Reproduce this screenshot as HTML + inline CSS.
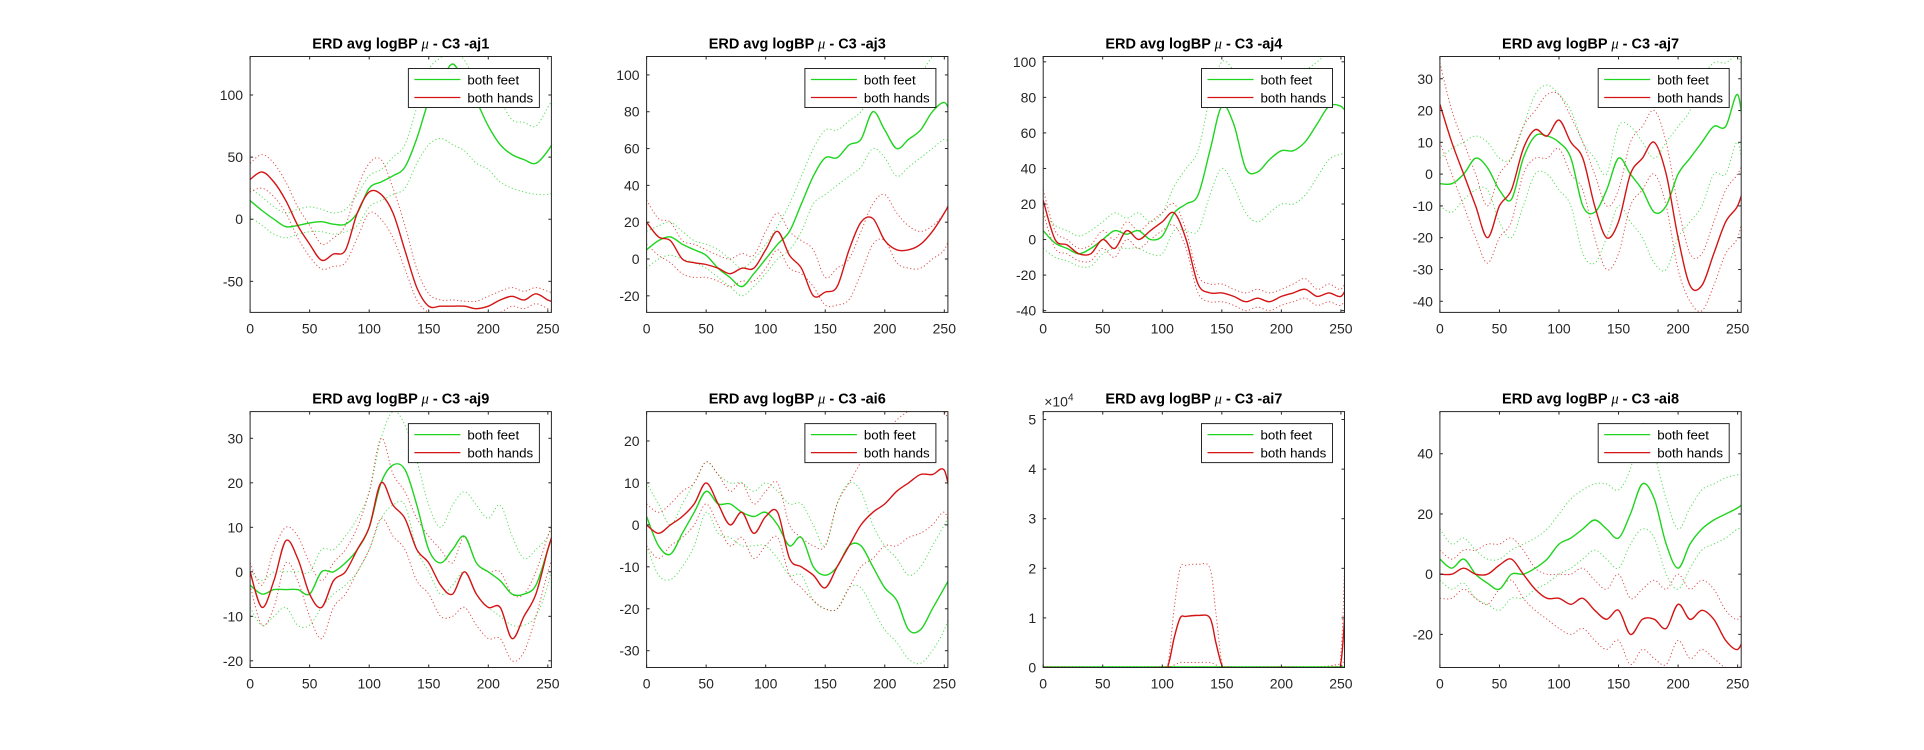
<!DOCTYPE html>
<html><head><meta charset="utf-8"><style>
body{margin:0;background:#fff;}
svg{display:block;font-family:"Liberation Sans",sans-serif;}
</style></head><body>
<svg id="fig" width="1924" height="750" viewBox="0 0 1924 750" xmlns="http://www.w3.org/2000/svg">
<rect width="1924" height="750" fill="#fff"/>
</svg>
<script>
const X = [0,10,20,30,40,50,60,70,80,90,100,110,120,130,140,150,160,170,180,190,200,210,220,230,240,250,256];
const X7 = [0,100,105,110,115,120,130,140,145,150,155,200,245,250,253,256];
const titles = ["aj1","aj3","aj4","aj7","aj9","ai6","ai7","ai8"];
const ylims = [[-75,131],[-29,110],[-41,103],[-43.5,37],[-21.5,36],[-34,27],[0,5.16],[-31,54]];
const yticks = [[-50,0,50,100],[-20,0,20,40,60,80,100],[-40,-20,0,20,40,60,80,100],[-40,-30,-20,-10,0,10,20,30],[-20,-10,0,10,20,30],[-30,-20,-10,0,10,20],[0,1,2,3,4,5],[-20,0,20,40]];
const xticks = [0,50,100,150,200,250];

// feet (green) mean / upper / lower
const gM = [
[15,7,0,-6,-5,-3,-2,-4,-4,5,25,30,35,42,65,95,110,125,110,95,75,60,52,48,45,55,65],
[5,10,12,8,5,2,-5,-10,-15,-8,0,8,15,30,45,55,55,62,65,80,70,60,65,70,80,85,78],
[5,-2,-5,-8,-5,0,5,3,5,0,2,15,20,25,50,75,65,40,38,45,50,50,55,65,75,75,70],
[-3,-3,0,5,2,-5,-8,5,12,12,10,5,-10,-12,-5,5,0,-5,-12,-10,0,5,10,15,15,25,10],
[-3,-5,-4,-4,-4,-5,0,0,2,5,10,20,24,23,15,5,2,5,8,2,0,-2,-5,-5,-3,5,10],
[2,-5,-7,-2,3,8,5,5,3,2,3,0,-5,-3,-10,-12,-10,-5,-5,-10,-15,-18,-25,-25,-20,-15,-12],
[0.01,0.01,0.01,0.01,0.01,0.01,0.01,0.01,0.01,0.01,0.01,0.01,0.01,0.01,0.01,0.02],
[5,2,5,0,-3,-5,0,0,2,5,10,12,15,18,15,12,20,30,25,10,2,10,15,18,20,22,24]];
const gU = [
[25,18,10,5,8,10,8,5,8,20,35,40,50,60,90,120,130,135,128,110,105,95,80,78,75,90,100],
[15,18,20,15,10,8,5,0,-5,0,8,18,30,45,60,70,70,75,80,90,95,85,90,100,110,115,105],
[15,8,5,2,5,10,15,12,15,10,15,30,40,50,80,100,95,85,85,90,90,90,95,100,105,105,100],
[5,8,10,12,10,5,5,15,25,28,25,20,10,5,0,15,15,10,5,10,15,20,30,35,35,37,30],
[0,-2,0,0,0,0,5,5,8,12,18,30,36,33,25,15,10,15,18,15,12,15,8,3,5,8,12],
[10,5,0,5,10,15,12,10,10,8,10,8,5,5,0,-5,5,10,8,0,-5,-8,-12,-10,-5,0,3],
[0.02,0.02,0.02,0.02,0.02,0.02,0.02,0.02,0.02,0.02,0.02,0.02,0.02,0.02,0.02,0.04],
[15,10,12,8,5,5,8,10,12,15,20,25,28,30,30,28,35,50,40,25,15,22,28,30,32,33,33]];
const gL = [
[2,-5,-12,-15,-12,-10,-10,-12,-10,-5,10,15,20,25,45,60,65,60,55,45,40,30,25,22,20,20,22],
[-5,0,2,0,-2,-5,-10,-15,-20,-15,-8,0,5,15,30,35,40,45,50,60,55,45,50,55,60,65,62],
[-5,-10,-12,-15,-15,-8,-5,-5,-5,-8,-8,5,5,5,25,40,30,15,10,15,20,20,25,35,45,48,48],
[-10,-12,-8,-5,-5,-15,-20,-10,0,0,-5,-10,-25,-28,-20,-10,-15,-20,-28,-30,-20,-15,-10,0,0,10,-5],
[-8,-12,-10,-8,-12,-12,-8,-5,-3,0,5,12,15,15,5,0,-5,-3,0,-5,-8,-10,-12,-12,-10,-3,5],
[-5,-12,-13,-10,-5,3,-2,-3,-5,-5,-5,-8,-12,-12,-18,-20,-20,-15,-15,-20,-25,-28,-32,-33,-30,-25,-20],
[0,0,0,0,0,0,0,0,0,0,0,0,0,0,0,0],
[-2,-5,-3,-8,-10,-12,-8,-8,-5,-3,0,2,5,8,5,2,10,15,12,0,-5,2,8,10,12,15,15]];
// hands (red) mean / upper / lower
const rM = [
[32,38,30,15,-5,-20,-33,-28,-25,5,22,20,5,-25,-55,-70,-70,-70,-70,-72,-70,-65,-62,-65,-60,-65,-67],
[20,12,10,0,-2,-3,-5,-8,-5,-5,5,15,2,-5,-20,-18,-15,5,20,22,10,5,5,8,15,25,32],
[22,0,-3,-8,-8,0,-5,5,0,5,10,15,0,-25,-30,-30,-32,-35,-33,-35,-32,-30,-28,-32,-30,-32,-25],
[22,10,0,-10,-20,-10,-5,8,14,12,17,10,5,-10,-20,-15,0,5,10,0,-20,-35,-35,-25,-15,-10,-3],
[0,-8,-2,7,3,-5,-8,-2,0,5,10,20,15,12,5,2,-3,-5,0,-5,-8,-8,-15,-10,-5,5,10],
[0,-2,0,2,5,10,5,0,3,-2,2,3,-8,-10,-12,-15,-10,-5,0,3,5,8,10,12,12,13,5],
[0,0,0.05,0.6,1.0,1.03,1.05,1.0,0.5,0.05,0,0,0,0.1,1.0,2.63],
[0,0,2,0,0,3,5,0,-5,-8,-8,-10,-8,-12,-15,-12,-20,-15,-15,-18,-10,-15,-12,-15,-22,-25,-20]];
const rU = [
[45,52,45,30,10,-5,-20,-15,-5,25,45,48,25,-5,-40,-60,-65,-65,-66,-66,-62,-58,-55,-58,-55,-58,-60],
[32,22,20,10,8,5,2,0,3,2,15,25,15,10,5,-10,-5,0,15,30,35,25,18,15,18,25,35],
[28,5,0,-5,-3,5,0,10,5,10,15,20,5,-20,-25,-25,-28,-30,-28,-30,-28,-25,-22,-28,-25,-28,-20],
[35,20,10,0,-10,0,5,15,20,25,25,18,10,0,-10,-5,10,15,20,10,-10,-25,-25,-15,-5,0,5],
[2,-3,5,10,8,2,-2,2,5,10,18,30,22,18,12,8,5,2,8,2,0,0,-5,-5,0,8,12],
[5,3,5,8,10,15,12,8,10,5,8,10,0,-3,-5,-5,5,10,15,20,22,25,27,27,27,27,22],
[0,0,0.1,1.2,2.0,2.06,2.08,2.0,1.1,0.1,0,0,0.05,0.3,2.0,5.1],
[8,5,8,8,10,10,12,8,2,0,0,0,2,-2,-5,0,-8,-5,-2,-5,0,-5,-2,-5,-12,-15,-10]];
const rL = [
[22,25,18,5,-15,-30,-40,-38,-35,-15,5,0,-15,-40,-65,-75,-75,-75,-75,-75,-75,-75,-70,-72,-68,-72,-74],
[8,2,-2,-8,-10,-10,-12,-15,-12,-12,-5,5,-5,-8,-15,-25,-25,-22,-8,8,10,-2,-5,-5,0,5,15],
[15,-5,-8,-12,-12,-5,-10,0,-5,0,5,8,-5,-30,-35,-35,-37,-40,-38,-40,-37,-35,-33,-37,-35,-37,-30],
[10,0,-10,-20,-28,-20,-15,0,5,5,8,0,-5,-20,-30,-25,-10,-5,0,-10,-30,-40,-43,-35,-25,-20,-10],
[-3,-12,-8,2,-2,-10,-15,-8,-5,0,5,12,8,5,-2,-5,-10,-10,-8,-12,-15,-15,-20,-18,-10,0,5],
[-5,-8,-5,-3,0,5,0,-5,-3,-8,-5,-3,-12,-15,-18,-20,-20,-15,-10,-8,-5,-5,-3,-2,0,3,-2],
[0,0,0,0.05,0.1,0.1,0.1,0.1,0.05,0,0,0,0,0,0.2,0.5],
[-8,-8,-5,-8,-10,-5,-2,-8,-12,-15,-18,-20,-18,-22,-25,-22,-30,-25,-28,-30,-22,-28,-25,-28,-31,-31,-30]];

const NS = "http://www.w3.org/2000/svg";
const fig = document.getElementById('fig');
const colL = [250.1, 646.6, 1043.2, 1439.9];
const rowT = [56.5, 411.6];
const W = 301.3, H = 255.9, XMAX = 253;
const GREEN = '#1ed41e', RED = '#d41414';
function mk(tag, attrs, parent){ const e=document.createElementNS(NS,tag); for(const k in attrs) e.setAttribute(k,attrs[k]); (parent||fig).appendChild(e); return e; }
function pathD(xs, ys, sx, sy){
  const p = xs.map((x,i)=>[sx(x), sy(ys[i])]);
  let d = 'M'+p[0][0].toFixed(1)+','+p[0][1].toFixed(1);
  for(let i=0;i<p.length-1;i++){
    const p0=p[Math.max(0,i-1)], p1=p[i], p2=p[i+1], p3=p[Math.min(p.length-1,i+2)];
    const c1=[p1[0]+(p2[0]-p0[0])/6, p1[1]+(p2[1]-p0[1])/6];
    const c2=[p2[0]-(p3[0]-p1[0])/6, p2[1]-(p3[1]-p1[1])/6];
    d += ' C'+c1[0].toFixed(1)+','+c1[1].toFixed(1)+' '+c2[0].toFixed(1)+','+c2[1].toFixed(1)+' '+p2[0].toFixed(1)+','+p2[1].toFixed(1);
  }
  return d;
}
for(let k=0;k<8;k++){
  const L = colL[k%4], T = rowT[Math.floor(k/4)];
  const [y0,y1] = ylims[k];
  const sx = v => L + v/XMAX*W;
  const sy = v => T + H - (v-y0)/(y1-y0)*H;
  const xs = (k===6) ? X7 : X;
  const g = mk('g',{});
  
  
  const cid='clip'+k;
  const cp = mk('clipPath',{id:cid},g); mk('rect',{x:L,y:T,width:W,height:H},cp);
  const plot = mk('g',{'clip-path':'url(#'+cid+')'},g);
  const series = [[gU[k],GREEN,true,'feet-upper'],[gL[k],GREEN,true,'feet-lower'],[rU[k],RED,true,'hands-upper'],[rL[k],RED,true,'hands-lower'],[gM[k],GREEN,false,'feet-mean'],[rM[k],RED,false,'hands-mean']];
  for(const [ys,col,dot,nm] of series){
    const p = mk('path',{d:pathD(xs,ys,sx,sy),fill:'none',stroke:col,'stroke-width':dot?1:1.4,'stroke-dasharray':dot?'1.2,2.4':'none','stroke-opacity':dot?0.75:1},plot);
    
    
  }
  // axes box
  const box = mk('rect',{x:L,y:T,width:W,height:H,fill:'none',stroke:'#262626','stroke-width':1},g);
  
  
  for(const t of xticks){
    const x = sx(t);
    mk('line',{x1:x,x2:x,y1:T+H,y2:T+H-3,stroke:'#262626'},g);
    mk('line',{x1:x,x2:x,y1:T,y2:T+3,stroke:'#262626'},g);
    const tx = mk('text',{x:x,y:T+H+21,'font-size':14,fill:'#262626','text-anchor':'middle'},g);
    tx.textContent = t;
    
    
  }
  for(const t of yticks[k]){
    const y = sy(t);
    mk('line',{x1:L,x2:L+3,y1:y,y2:y,stroke:'#262626'},g);
    mk('line',{x1:L+W,x2:L+W-3,y1:y,y2:y,stroke:'#262626'},g);
    const ty = mk('text',{x:L-7,y:y+5,'font-size':14,fill:'#262626','text-anchor':'end'},g);
    ty.textContent = t;
    
    
  }
  if(k===6){
    const ex = mk('text',{x:L+1,y:T-5,'font-size':14,fill:'#262626'},g);
    ex.innerHTML = '×10<tspan dy="-6" font-size="10">4</tspan>';
    
    
  }
  const tt = mk('text',{x:L+W/2,y:T-8,'font-size':14.5,'font-weight':'bold',fill:'#000','text-anchor':'middle'},g);
  tt.innerHTML = 'ERD avg logBP <tspan font-family="Liberation Serif,serif" font-style="italic" font-weight="normal">μ</tspan> - C3 -'+titles[k];
  
  
  // legend
  const lx = L+W-12-131, ly = T+12;
  const lg = mk('g',{},g);
  
  
  mk('rect',{x:lx,y:ly,width:131,height:39,fill:'#fff',stroke:'#262626','stroke-width':1},lg);
  const ents=[['both feet',GREEN,ly+11],['both hands',RED,ly+29]];
  for(const [lab,col,yy] of ents){
    const e = mk('g',{},lg);
    
    
    mk('line',{x1:lx+6,x2:lx+52,y1:yy,y2:yy,stroke:col,'stroke-width':1.3},e);
    const t = mk('text',{x:lx+59,y:yy+5,'font-size':13.3,fill:'#000'},e);
    t.textContent = lab;
  }
}
</script>
</body></html>
